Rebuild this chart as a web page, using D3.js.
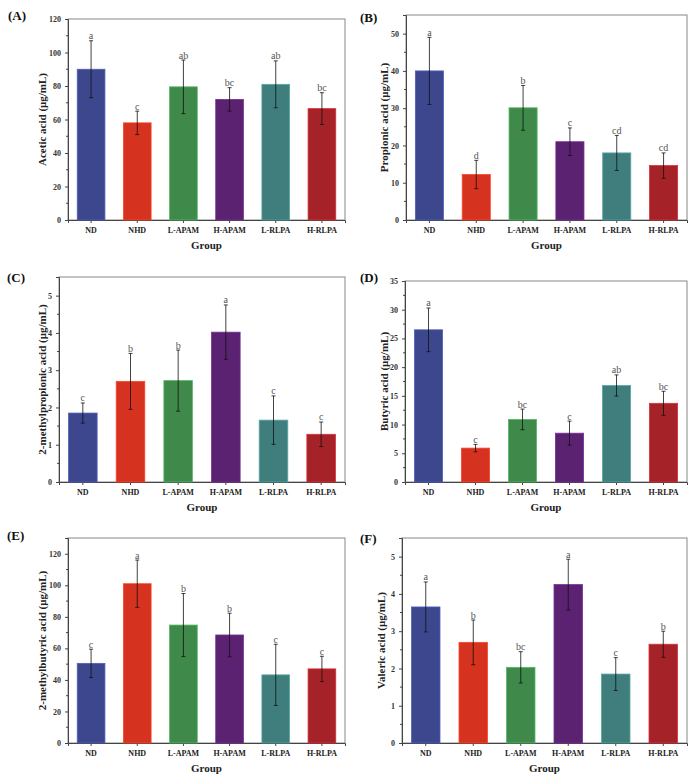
<!DOCTYPE html>
<html>
<head>
<meta charset="utf-8">
<script src="https://cdn.jsdelivr.net/npm/d3@7"></script>
<style>
  body { margin: 0; background: #fff; }
  svg { display: block; font-family: "Liberation Serif", "Times New Roman", serif; }
</style>
</head>
<body>
<svg id="chart" width="694" height="782"></svg>
<script>
// groups shared by all six panels
const groups = ["ND", "NHD", "L-APAM", "H-APAM", "L-RLPA", "H-RLPA"];

// (A) acetic acid
const aceticMean = [90, 58, 79.5, 72, 81, 66.5];
const aceticSd = [17, 7, 16, 7, 14, 9.5];
const aceticLetters = ["a", "c", "ab", "bc", "ab", "bc"];

// (B) propionic acid
const propionicMean = [40, 12.2, 30.1, 21, 18, 14.6];
const propionicSd = [9, 3.8, 6, 3.7, 4.7, 3.4];
const propionicLetters = ["a", "d", "b", "c", "cd", "cd"];

// (C) 2-methylpropionic acid
const methylpropMean = [1.85, 2.7, 2.72, 4.02, 1.66, 1.28];
const methylpropSd = [0.27, 0.75, 0.82, 0.73, 0.65, 0.33];
const methylpropLetters = ["c", "b", "b", "a", "c", "c"];

// (D) butyric acid
const butyricMean = [26.5, 5.9, 10.9, 8.5, 16.8, 13.7];
const butyricSd = [3.8, 0.65, 1.8, 2.1, 1.85, 2.1];
const butyricLetters = ["a", "c", "bc", "c", "ab", "bc"];

// (E) 2-methylbutyric acid
const methylbutMean = [50.5, 101, 74.8, 68.5, 43.2, 47];
const methylbutSd = [9, 15, 20, 13.8, 19.4, 8];
const methylbutLetters = ["c", "a", "b", "b", "c", "c"];

// (F) valeric acid
const valericMean = [3.65, 2.7, 2.03, 4.25, 1.85, 2.65];
const valericSd = [0.67, 0.6, 0.42, 0.68, 0.44, 0.35];
const valericLetters = ["a", "b", "bc", "a", "c", "b"];

const barColors = ["#3d478e", "#d5321f", "#3f8a4b", "#5b2272", "#3f7e7d", "#a52328"];

const panels = [
  { tag: "(A)", title: "Acetic acid (μg/mL)", mean: aceticMean, sd: aceticSd, letters: aceticLetters,
    max: 120, step: 20, box: [68, 19, 345, 220], titleX: 43, tagX: 8, tagY: 20 },
  { tag: "(B)", title: "Propionic acid (μg/mL)", mean: propionicMean, sd: propionicSd, letters: propionicLetters,
    max: 55, step: 10, box: [406, 15, 687, 220], titleX: 385, tagX: 360, tagY: 22 },
  { tag: "(C)", title: "2-methylpropionic acid (μg/mL)", mean: methylpropMean, sd: methylpropSd, letters: methylpropLetters,
    max: 5.5, step: 1, box: [59, 277, 345, 482], titleX: 43, tagX: 7, tagY: 282 },
  { tag: "(D)", title: "Butyric acid (μg/mL)", mean: butyricMean, sd: butyricSd, letters: butyricLetters,
    max: 35, step: 5, box: [405, 281, 687, 482], titleX: 385, tagX: 360, tagY: 282 },
  { tag: "(E)", title: "2-methylbutyric acid (μg/mL)", mean: methylbutMean, sd: methylbutSd, letters: methylbutLetters,
    max: 130, step: 20, box: [68, 538, 345, 743], titleX: 43, tagX: 7, tagY: 540 },
  { tag: "(F)", title: "Valeric acid (μg/mL)", mean: valericMean, sd: valericSd, letters: valericLetters,
    max: 5.5, step: 1, box: [402, 538, 687, 743], titleX: 382, tagX: 360, tagY: 543 }
];

const svg = d3.select("#chart");

panels.forEach(p => {
  const [x0, y0, x1, y1] = p.box;
  const g = svg.append("g");

  const x = d3.scaleBand().domain(groups).range([x0, x1]).paddingInner(0.4).paddingOuter(0.2);
  const y = d3.scaleLinear().domain([0, p.max]).range([y1, y0]);

  const majors = d3.range(0, p.max + 1e-9, p.step);
  const minors = d3.range(p.step / 2, p.max, p.step);

  // frame
  g.append("rect")
    .attr("x", x0).attr("y", y0)
    .attr("width", x1 - x0).attr("height", y1 - y0)
    .attr("fill", "none").attr("stroke", "#888").attr("stroke-width", 1);

  // y axis
  const yAxis = g.append("g")
    .attr("transform", `translate(${x0},0)`)
    .call(d3.axisLeft(y).tickValues(majors).tickFormat(d3.format("d")).tickSize(3).tickPadding(4));
  yAxis.select(".domain").attr("stroke", "#444");
  yAxis.selectAll("line").attr("stroke", "#444");
  yAxis.selectAll("text").attr("font-size", 8).attr("font-weight", "bold")
    .attr("fill", "#333").attr("font-family", "Liberation Serif, serif");

  g.selectAll(".minor-y").data(minors).join("line")
    .attr("x1", x0 - 2).attr("x2", x0)
    .attr("y1", d => y(d)).attr("y2", d => y(d))
    .attr("stroke", "#444");

  // x axis
  const xAxis = g.append("g")
    .attr("transform", `translate(0,${y1})`)
    .call(d3.axisBottom(x).tickSize(3).tickPadding(4));
  xAxis.select(".domain").attr("stroke", "#444");
  xAxis.selectAll("line").attr("stroke", "#444");
  xAxis.selectAll("text").attr("font-size", 8).attr("font-weight", "bold")
    .attr("fill", "#222").attr("font-family", "Liberation Serif, serif");

  // bars
  const data = groups.map((k, i) => ({ k, m: p.mean[i], s: p.sd[i], l: p.letters[i], c: barColors[i] }));
  g.selectAll(".bar").data(data).join("rect")
    .attr("x", d => x(d.k))
    .attr("y", d => y(d.m))
    .attr("width", x.bandwidth())
    .attr("height", d => y1 - y(d.m))
    .attr("fill", d => d.c)
    .attr("stroke", d => d3.color(d.c).brighter(0.8))
    .attr("stroke-width", 0.8);

  // error bars
  const cx = d => x(d.k) + x.bandwidth() / 2;
  g.selectAll(".err").data(data).join("line")
    .attr("x1", cx).attr("x2", cx)
    .attr("y1", d => y(d.m - d.s)).attr("y2", d => y(d.m + d.s))
    .attr("stroke", "#111").attr("stroke-width", 0.8);
  g.selectAll(".capTop").data(data).join("line")
    .attr("x1", d => cx(d) - 2).attr("x2", d => cx(d) + 2)
    .attr("y1", d => y(d.m + d.s)).attr("y2", d => y(d.m + d.s))
    .attr("stroke", "#111").attr("stroke-width", 0.8);
  g.selectAll(".capBot").data(data).join("line")
    .attr("x1", d => cx(d) - 2).attr("x2", d => cx(d) + 2)
    .attr("y1", d => y(d.m - d.s)).attr("y2", d => y(d.m - d.s))
    .attr("stroke", "#111").attr("stroke-width", 0.8);

  // significance letters
  g.selectAll(".letter").data(data).join("text")
    .attr("x", cx)
    .attr("y", d => y(d.m + d.s) - 1.5)
    .attr("text-anchor", "middle")
    .attr("font-size", 10)
    .attr("fill", "#555")
    .text(d => d.l);

  // axis titles
  g.append("text")
    .attr("transform", `translate(${p.titleX},${(y0 + y1) / 2}) rotate(-90)`)
    .attr("text-anchor", "middle")
    .attr("dominant-baseline", "middle")
    .attr("font-size", 11).attr("font-weight", "bold").attr("fill", "#222")
    .text(p.title);

  g.append("text")
    .attr("x", (x0 + x1) / 2).attr("y", y1 + 29)
    .attr("text-anchor", "middle")
    .attr("font-size", 11).attr("font-weight", "bold").attr("fill", "#222")
    .text("Group");

  // panel tag
  g.append("text")
    .attr("x", p.tagX).attr("y", p.tagY)
    .attr("font-size", 13).attr("font-weight", "bold").attr("fill", "#111")
    .text(p.tag);
});
</script>
</body>
</html>
